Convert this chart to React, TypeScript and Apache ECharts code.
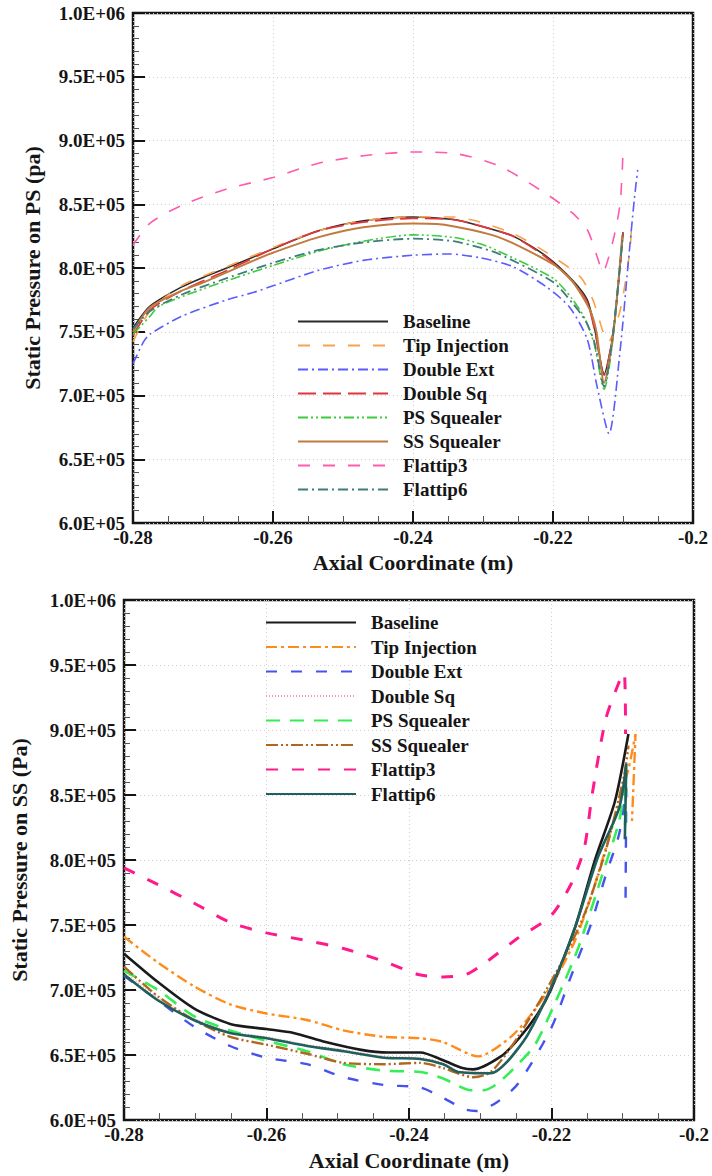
import React, { useEffect, useRef } from "react";
import * as echarts from "echarts";

const FONT = "'Liberation Serif', 'Times New Roman', serif";

const seriesNames = ["Baseline", "Tip Injection", "Double Ext", "Double Sq", "PS Squealer", "SS Squealer", "Flattip3", "Flattip6"];
const xTickValues = [-0.28, -0.26, -0.24, -0.22, -0.2];

// ---------- Top chart: static pressure on PS ----------
const psBaseline = [[-0.28, 7.53e5], [-0.2776, 7.70e5], [-0.2731, 7.85e5], [-0.2698, 7.93e5], [-0.2666, 8.0e5], [-0.26, 8.15e5], [-0.2536, 8.29e5], [-0.2471, 8.37e5], [-0.24, 8.40e5], [-0.2342, 8.38e5], [-0.2304, 8.33e5], [-0.2257, 8.25e5], [-0.2209, 8.09e5], [-0.2173, 7.91e5], [-0.2151, 7.75e5], [-0.214, 7.51e5], [-0.2127, 7.17e5], [-0.2114, 7.49e5], [-0.21, 8.28e5]];
const psTipInjection = [[-0.28, 7.42e5], [-0.2776, 7.66e5], [-0.2731, 7.86e5], [-0.2666, 8.01e5], [-0.26, 8.16e5], [-0.2536, 8.29e5], [-0.2471, 8.37e5], [-0.24, 8.40e5], [-0.2342, 8.40e5], [-0.2304, 8.36e5], [-0.2257, 8.27e5], [-0.2209, 8.12e5], [-0.2161, 7.93e5], [-0.2143, 7.75e5], [-0.2121, 7.42e5], [-0.2104, 7.67e5], [-0.209, 8.14e5], [-0.2088, 8.32e5]];
const psDoubleExt = [[-0.28, 7.25e5], [-0.2785, 7.42e5], [-0.2776, 7.48e5], [-0.2731, 7.62e5], [-0.2666, 7.75e5], [-0.2627, 7.81e5], [-0.26, 7.86e5], [-0.2536, 7.98e5], [-0.2471, 8.06e5], [-0.24, 8.10e5], [-0.2348, 8.11e5], [-0.2304, 8.08e5], [-0.2257, 8.01e5], [-0.2209, 7.85e5], [-0.2176, 7.69e5], [-0.2151, 7.44e5], [-0.2137, 7.07e5], [-0.212, 6.70e5], [-0.2104, 7.36e5], [-0.2093, 8.01e5], [-0.2084, 8.53e5], [-0.2079, 8.77e5]];
const psDoubleSq = [[-0.28, 7.47e5], [-0.2776, 7.67e5], [-0.2731, 7.82e5], [-0.2666, 7.98e5], [-0.26, 8.15e5], [-0.2536, 8.29e5], [-0.2471, 8.36e5], [-0.24, 8.39e5], [-0.2342, 8.38e5], [-0.2304, 8.33e5], [-0.2257, 8.25e5], [-0.2209, 8.08e5], [-0.2173, 7.90e5], [-0.2151, 7.73e5], [-0.214, 7.50e5], [-0.2127, 7.16e5], [-0.2114, 7.50e5], [-0.21, 8.28e5]];
const psPSSquealer = [[-0.28, 7.48e5], [-0.2776, 7.62e5], [-0.2763, 7.70e5], [-0.2698, 7.84e5], [-0.2666, 7.90e5], [-0.26, 8.02e5], [-0.2536, 8.13e5], [-0.2471, 8.21e5], [-0.24, 8.26e5], [-0.2342, 8.24e5], [-0.2304, 8.19e5], [-0.2277, 8.13e5], [-0.22, 7.92e5], [-0.2173, 7.76e5], [-0.2154, 7.60e5], [-0.2141, 7.40e5], [-0.2127, 7.05e5], [-0.2114, 7.46e5], [-0.2101, 8.26e5]];
const psSSSquealer = [[-0.28, 7.50e5], [-0.2776, 7.69e5], [-0.2731, 7.82e5], [-0.2698, 7.89e5], [-0.2627, 8.06e5], [-0.26, 8.12e5], [-0.2536, 8.24e5], [-0.2471, 8.32e5], [-0.24, 8.35e5], [-0.2355, 8.34e5], [-0.2277, 8.24e5], [-0.22, 8.03e5], [-0.2173, 7.90e5], [-0.2148, 7.68e5], [-0.2138, 7.50e5], [-0.2127, 7.10e5], [-0.2114, 7.48e5], [-0.2101, 8.25e5]];
const psFlattip3 = [[-0.28, 8.18e5], [-0.2776, 8.35e5], [-0.2731, 8.49e5], [-0.2666, 8.62e5], [-0.26, 8.71e5], [-0.2536, 8.82e5], [-0.2471, 8.88e5], [-0.24, 8.91e5], [-0.2342, 8.90e5], [-0.2277, 8.80e5], [-0.2212, 8.59e5], [-0.2172, 8.43e5], [-0.2151, 8.30e5], [-0.2137, 8.09e5], [-0.2129, 7.97e5], [-0.2114, 8.22e5], [-0.2104, 8.51e5], [-0.21, 8.91e5]];
const psFlattip6 = [[-0.28, 7.52e5], [-0.2776, 7.66e5], [-0.2731, 7.79e5], [-0.2666, 7.92e5], [-0.26, 8.04e5], [-0.2536, 8.14e5], [-0.2471, 8.20e5], [-0.24, 8.23e5], [-0.2342, 8.21e5], [-0.2304, 8.16e5], [-0.2277, 8.11e5], [-0.22, 7.89e5], [-0.2173, 7.73e5], [-0.2154, 7.59e5], [-0.2141, 7.42e5], [-0.2127, 7.07e5], [-0.2115, 7.45e5], [-0.21, 8.26e5]];

// ---------- Bottom chart: static pressure on SS ----------
const ssBaseline = [[-0.28, 7.28e5], [-0.2752, 7.06e5], [-0.2702, 6.86e5], [-0.2651, 6.74e5], [-0.26, 6.70e5], [-0.2562, 6.67e5], [-0.2517, 6.60e5], [-0.2467, 6.54e5], [-0.2429, 6.52e5], [-0.2384, 6.52e5], [-0.2352, 6.46e5], [-0.2325, 6.40e5], [-0.231, 6.39e5], [-0.2271, 6.49e5], [-0.2247, 6.62e5], [-0.2219, 6.82e5], [-0.2201, 7.0e5], [-0.2167, 7.48e5], [-0.2139, 8.0e5], [-0.2111, 8.45e5], [-0.2092, 8.97e5]];
const ssTipInjection = [[-0.28, 7.41e5], [-0.2752, 7.21e5], [-0.2702, 7.03e5], [-0.2651, 6.89e5], [-0.26, 6.82e5], [-0.2543, 6.77e5], [-0.2492, 6.69e5], [-0.2435, 6.64e5], [-0.2384, 6.63e5], [-0.2352, 6.60e5], [-0.2303, 6.49e5], [-0.2257, 6.64e5], [-0.2223, 6.85e5], [-0.2191, 7.12e5], [-0.2167, 7.38e5], [-0.2145, 7.71e5], [-0.2115, 8.25e5], [-0.2092, 8.70e5], [-0.2082, 8.97e5], [-0.2087, 8.30e5]];
const ssDoubleExt = [[-0.28, 7.11e5], [-0.2752, 6.92e5], [-0.2702, 6.72e5], [-0.2651, 6.57e5], [-0.26, 6.48e5], [-0.2543, 6.43e5], [-0.2492, 6.33e5], [-0.2435, 6.27e5], [-0.2384, 6.25e5], [-0.2352, 6.17e5], [-0.232, 6.08e5], [-0.2305, 6.07e5], [-0.2276, 6.14e5], [-0.2247, 6.28e5], [-0.2201, 6.70e5], [-0.2173, 7.10e5], [-0.2145, 7.50e5], [-0.2124, 7.88e5], [-0.2105, 8.20e5], [-0.2095, 8.55e5], [-0.2096, 7.70e5]];
const ssDoubleSq = [[-0.28, 7.14e5], [-0.2752, 6.94e5], [-0.2702, 6.78e5], [-0.2651, 6.68e5], [-0.26, 6.64e5], [-0.2543, 6.58e5], [-0.2492, 6.54e5], [-0.2435, 6.49e5], [-0.2384, 6.48e5], [-0.2352, 6.44e5], [-0.2331, 6.38e5], [-0.2285, 6.37e5], [-0.2262, 6.46e5], [-0.2233, 6.67e5], [-0.2198, 7.06e5], [-0.2167, 7.49e5], [-0.2135, 8.03e5], [-0.2105, 8.41e5], [-0.2095, 8.72e5]];
const ssPSSquealer = [[-0.28, 7.15e5], [-0.2752, 7.00e5], [-0.2702, 6.80e5], [-0.2651, 6.69e5], [-0.26, 6.61e5], [-0.2543, 6.53e5], [-0.2492, 6.43e5], [-0.2435, 6.38e5], [-0.2384, 6.37e5], [-0.2352, 6.32e5], [-0.2313, 6.23e5], [-0.2295, 6.23e5], [-0.2276, 6.28e5], [-0.2247, 6.43e5], [-0.2223, 6.58e5], [-0.2191, 6.95e5], [-0.2162, 7.33e5], [-0.2125, 7.95e5], [-0.2105, 8.30e5], [-0.2095, 8.62e5], [-0.2097, 8.22e5]];
const ssSSSquealer = [[-0.28, 7.18e5], [-0.2752, 6.95e5], [-0.2702, 6.77e5], [-0.2651, 6.64e5], [-0.26, 6.58e5], [-0.2543, 6.51e5], [-0.2492, 6.44e5], [-0.2435, 6.43e5], [-0.2384, 6.44e5], [-0.2352, 6.40e5], [-0.231, 6.33e5], [-0.2285, 6.37e5], [-0.2247, 6.64e5], [-0.2187, 7.20e5], [-0.2154, 7.58e5], [-0.2124, 8.07e5], [-0.2098, 8.65e5], [-0.2092, 8.88e5]];
const ssFlattip3 = [[-0.28, 7.94e5], [-0.2752, 7.81e5], [-0.2702, 7.67e5], [-0.2651, 7.52e5], [-0.26, 7.44e5], [-0.2543, 7.38e5], [-0.2492, 7.32e5], [-0.2435, 7.22e5], [-0.2387, 7.12e5], [-0.2352, 7.10e5], [-0.232, 7.12e5], [-0.2293, 7.21e5], [-0.2247, 7.40e5], [-0.2201, 7.57e5], [-0.2173, 7.81e5], [-0.2154, 8.09e5], [-0.2143, 8.50e5], [-0.2124, 9.08e5], [-0.2105, 9.37e5], [-0.2098, 9.44e5], [-0.2096, 8.97e5]];
const ssFlattip6 = [[-0.28, 7.12e5], [-0.2752, 6.92e5], [-0.2702, 6.77e5], [-0.2651, 6.67e5], [-0.26, 6.63e5], [-0.2543, 6.57e5], [-0.2492, 6.53e5], [-0.2435, 6.48e5], [-0.2384, 6.47e5], [-0.2352, 6.43e5], [-0.2331, 6.37e5], [-0.2285, 6.36e5], [-0.2262, 6.45e5], [-0.2233, 6.66e5], [-0.2198, 7.05e5], [-0.2167, 7.48e5], [-0.2135, 8.02e5], [-0.2105, 8.40e5], [-0.2095, 8.74e5], [-0.2097, 8.16e5]];

const psData = [psBaseline, psTipInjection, psDoubleExt, psDoubleSq, psPSSquealer, psSSSquealer, psFlattip3, psFlattip6];
const ssData = [ssBaseline, ssTipInjection, ssDoubleExt, ssDoubleSq, ssPSSquealer, ssSSSquealer, ssFlattip3, ssFlattip6];

// line styles (visual only)
const psStyles = [
  { color: "#2a2a2a", width: 1.6, type: "solid" },
  { color: "#f7a24e", width: 1.6, type: [12, 13] },
  { color: "#5b5bff", width: 1.6, type: [10, 4, 2, 4] },
  { color: "#e0363a", width: 1.8, type: [18, 7] },
  { color: "#3ccc3c", width: 1.6, type: [10, 3, 2, 3, 2, 3] },
  { color: "#c07a40", width: 2, type: "solid" },
  { color: "#ff5aac", width: 1.6, type: [12, 13] },
  { color: "#3f7c7c", width: 1.8, type: [10, 4, 2, 4] },
];
const ssStyles = [
  { color: "#1a1a1a", width: 2.6, type: "solid" },
  { color: "#ff8c1a", width: 2.4, type: [11, 4, 3, 4] },
  { color: "#4452ee", width: 2.4, type: [11, 14] },
  { color: "#f0a0a8", width: 1.5, type: [1, 2] },
  { color: "#33ee55", width: 2.6, type: [14, 10] },
  { color: "#b0661f", width: 2.4, type: [12, 3, 2, 3, 2, 3] },
  { color: "#ff1a8c", width: 3, type: [12, 14] },
  { color: "#1f5f5c", width: 2.6, type: "solid" },
];

function sciLabel(v: number): string {
  const exp = Math.floor(Math.log10(v) + 1e-9);
  const m = v / Math.pow(10, exp);
  return `${m.toFixed(1)}E+${String(exp).padStart(2, "0")}`;
}
function xLabel(v: number): string {
  const match = xTickValues.find((t) => Math.abs(t - v) < 1e-9);
  if (match !== undefined && Math.abs(match + 0.2) < 1e-9) return "-0.2";
  return v.toFixed(2);
}

type Cfg = {
  data: number[][][];
  styles: any[];
  grid: { left: number; top: number; width: number; height: number };
  legendLeft: number;
  legendTop: number;
  itemGap: number;
  yName: string;
  yNameGap: number;
  xNameGap: number;
};

function buildOption(cfg: Cfg) {
  const labelStyle = { fontFamily: FONT, fontWeight: "bold", fontSize: 19, color: "#151515" };
  return {
    animation: false,
    backgroundColor: "#ffffff",
    grid: { ...cfg.grid, show: true, borderColor: "#151515", borderWidth: 2.5, backgroundColor: "transparent", containLabel: false },
    legend: {
      orient: "vertical",
      left: cfg.legendLeft,
      top: cfg.legendTop,
      itemWidth: 90,
      itemHeight: 14,
      itemGap: cfg.itemGap,
      padding: 0,
      selectedMode: false,
      data: seriesNames,
      itemStyle: { color: "rgba(0,0,0,0)", borderColor: "rgba(0,0,0,0)", borderWidth: 0, opacity: 0 },
      textStyle: { fontFamily: FONT, fontWeight: "bold", fontSize: 19, color: "#151515", padding: [0, 0, 0, 10] },
    },
    xAxis: {
      type: "value",
      min: -0.28,
      max: -0.2,
      interval: 0.02,
      name: "Axial Coordinate (m)",
      nameLocation: "middle",
      nameGap: cfg.xNameGap,
      nameTextStyle: { fontFamily: FONT, fontWeight: "bold", fontSize: 22, color: "#151515" },
      axisLine: { show: false },
      axisTick: { show: true, inside: true, length: 12, lineStyle: { color: "#151515", width: 2 } },
      minorTick: { show: true, splitNumber: 4, length: 7, lineStyle: { color: "#555", width: 1 } },
      splitLine: { show: true, lineStyle: { color: "#cfcfcf", width: 1, type: [1, 3] } },
      axisLabel: { ...labelStyle, margin: 5, formatter: (v: number) => xLabel(v) },
    },
    yAxis: {
      type: "value",
      min: 600000,
      max: 1000000,
      interval: 50000,
      name: cfg.yName,
      nameLocation: "middle",
      nameGap: cfg.yNameGap,
      nameTextStyle: { fontFamily: FONT, fontWeight: "bold", fontSize: 22, color: "#151515" },
      axisLine: { show: false },
      axisTick: { show: true, inside: true, length: 12, lineStyle: { color: "#151515", width: 2 } },
      minorTick: { show: true, splitNumber: 5, length: 6, lineStyle: { color: "#555", width: 1 } },
      splitLine: { show: true, lineStyle: { color: "#cfcfcf", width: 1, type: [1, 3] } },
      axisLabel: { ...labelStyle, margin: 8, formatter: (v: number) => sciLabel(v) },
    },
    series: seriesNames.map((name, i) => ({
      name,
      type: "line",
      data: cfg.data[i],
      symbol: "none",
      smooth: 0.25,
      silent: true,
      color: cfg.styles[i].color,
      lineStyle: { color: cfg.styles[i].color, width: cfg.styles[i].width, type: cfg.styles[i].type },
      z: 2,
    })),
  };
}

function Chart({ option, top, height }: { option: any; top: number; height: number }) {
  const ref = useRef<HTMLDivElement>(null);
  useEffect(() => {
    if (!ref.current) return;
    const chart = echarts.init(ref.current, null, { renderer: "svg" });
    chart.setOption(option);
    return () => chart.dispose();
  }, [option]);
  return <div ref={ref} style={{ position: "absolute", left: 0, top, width: 712, height }} />;
}

const topOption = buildOption({
  data: psData,
  styles: psStyles,
  grid: { left: 133, top: 13, width: 560, height: 510 },
  legendLeft: 297,
  legendTop: 312,
  itemGap: 5,
  yName: "Static Pressure on PS (pa)",
  yNameGap: 90,
  xNameGap: 19,
});

const bottomOption = buildOption({
  data: ssData,
  styles: ssStyles,
  grid: { left: 124, top: 15, width: 573, height: 524 },
  legendLeft: 265,
  legendTop: 28,
  itemGap: 5.5,
  yName: "Static Pressure on SS (Pa)",
  yNameGap: 94,
  xNameGap: 27,
});

export default function App() {
  return (
    <div style={{ position: "absolute", left: 0, top: 0, width: 712, height: 1176, background: "#fff" }}>
      <Chart option={topOption} top={0} height={585} />
      <Chart option={bottomOption} top={585} height={591} />
    </div>
  );
}
